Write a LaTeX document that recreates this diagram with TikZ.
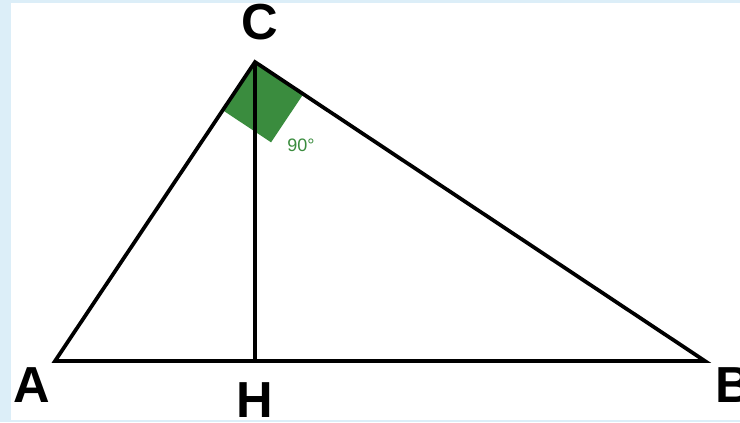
\documentclass[tikz,border=0pt]{standalone}
\usepackage{fontspec}
\setmainfont{Liberation Sans}
\usepackage{xcolor}
\usepackage{tikz}
\usetikzlibrary{calc}

\definecolor{frameblue}{RGB}{220,238,248}
\definecolor{anglegreen}{RGB}{58,140,62}

\begin{document}
\begin{tikzpicture}[x=0.75pt, y=-0.75pt,
    vertex/.style={font=\fontsize{38}{40}\selectfont\bfseries, inner sep=0pt},
    side/.style={line width=2.8pt, line join=miter}]
    % frame and margins
    \useasboundingbox (0,0) rectangle (740,422);
    \fill[frameblue] (0,0) rectangle (740,422);
    \fill[white] (11,3) rectangle (740,420);
    % corners of the triangle
    \coordinate (A) at (55,361);
    \coordinate (B) at (705,361);
    \coordinate (C) at (255,62);
    \coordinate (H) at (255,361);
    % right angle at C
    \coordinate (qa) at ($(C)!43.5pt!(A)$);
    \coordinate (qb) at ($(C)!43.5pt!(B)$);
    \fill[anglegreen] (C) -- (qa) -- ($(qa)+(qb)-(C)$) -- (qb) -- cycle;
    \node[text=anglegreen, font=\fontsize{13.5}{15}\selectfont, inner sep=0pt]
      (ang) at (301,145) {90°};
    % sides and altitude
    \draw[side] (A) -- (B) -- (C) -- cycle;
    \draw[side] (C) -- (H);
    % labels
    \node[vertex] (lA) at (32,385) {A};
    \node[vertex, anchor=west] (lB) at (715,385) {B};
    \node[vertex] (lC) at (260,22) {C};
    \node[vertex] (lH) at (255,400) {H};
\end{tikzpicture}
\end{document}
